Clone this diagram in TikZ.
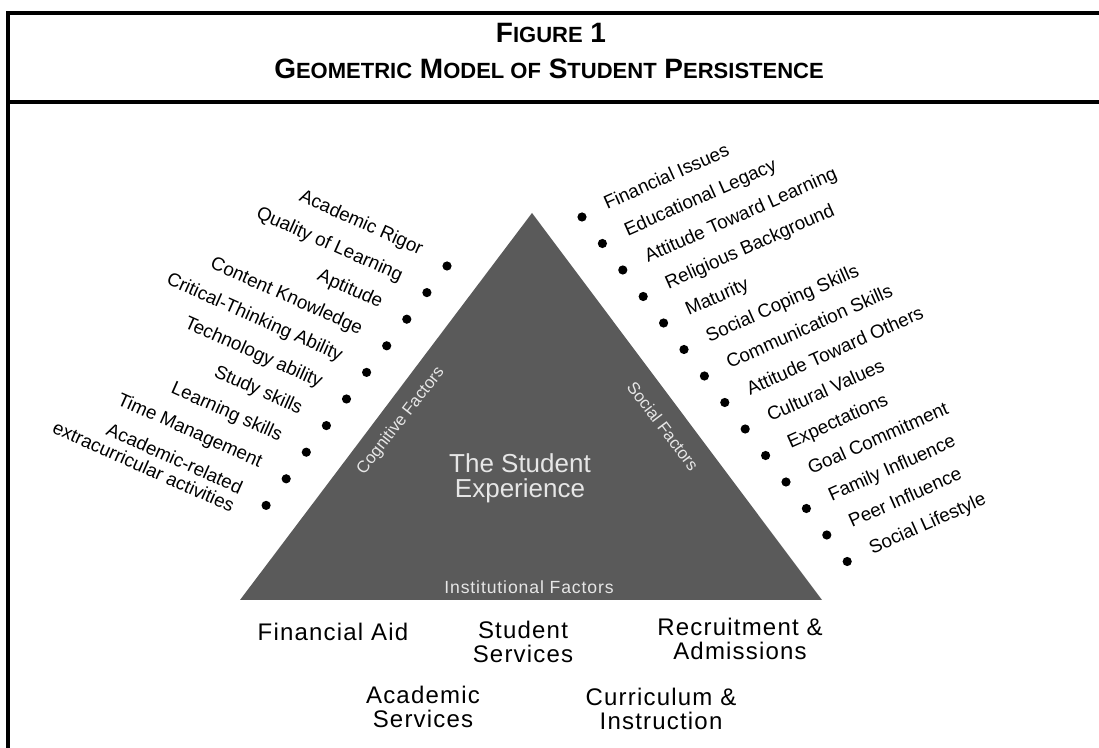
\documentclass[tikz,border=0pt]{standalone}
\usepackage{fontspec}
\setmainfont{Liberation Sans}
\usetikzlibrary{calc}
\definecolor{trifill}{HTML}{5A5A5A}
\definecolor{tritext}{HTML}{E6E6E6}
\newcommand{\smc}[1]{{\fontsize{11}{12}\selectfont #1}}
\begin{document}
\begin{tikzpicture}[x=0.5pt,y=-0.5pt,
  frameline/.style={line width=1.6pt, black},
  dotmark/.style={circle, fill=black, inner sep=0pt, minimum size=4.6pt},
  factlab/.style={font=\fontsize{9.4}{10}\selectfont, inner sep=0pt},
  leftlab/.style={factlab, anchor=base east, rotate=-24},
  rightlab/.style={factlab, anchor=base west, rotate=24},
  sidelab/.style={text=tritext, font=\fontsize{8.4}{9}\selectfont, inner sep=0pt},
  baselab/.style={align=center, inner sep=0pt, font=\fontsize{12}{12.2}\selectfont\addfontfeature{LetterSpace=5}},
  titlelab/.style={inner sep=0pt, anchor=base, font=\fontsize{14}{16}\selectfont\bfseries}
]
\useasboundingbox (0,0) rectangle (1099,748);
\fill[white] (0,0) rectangle (1099,748);
% frame
\draw[frameline] (1099,13) -- (8,13) -- (8,748);
\draw[frameline] (8,102) -- (1099,102);
% title
\node[titlelab] (t1) at (551,43) {F\smc{IGURE} 1};
\node[titlelab] (t2) at (549,79) {G\smc{EOMETRIC} M\smc{ODEL OF} S\smc{TUDENT} P\smc{ERSISTENCE}};
% triangle
\coordinate (bl) at (240,600);
\coordinate (br) at (822,600);
\coordinate (ap) at (532,213);
\fill[trifill] (bl) -- (br) -- (ap) -- cycle;
\node[text=tritext, align=center, inner sep=0pt, font=\fontsize{13}{12.6}\selectfont] (exp) at (520,478) {The Student\\Experience};
\node[sidelab, rotate=52] (cog) at (401,421) {Cognitive Factors};
\node[sidelab, rotate=-53] (soc) at (663,426) {Social Factors};
\node[sidelab, font=\fontsize{8.8}{9}\selectfont\addfontfeature{LetterSpace=5}] (inst) at (529,587) {Institutional Factors};
% left factors
\foreach \t [count=\n from 0] in {Academic Rigor,Quality of Learning,Aptitude,Content Knowledge,Critical-Thinking Ability,Technology ability,Study skills,Learning skills,Time Management}{
  \node[dotmark] (ld\n) at ({447-20.1*\n},{266+26.6*\n}) {};
  \node[leftlab] (ll\n) at ($(ld\n)+(-27,-11)$) {\t};
}
\node[dotmark] (ld9) at ({447-20.1*9},{266+26.6*9}) {};
\node[leftlab, align=right] (ll9) at ($(ld9)+(-35,7.3)$) {Academic-related\\extracurricular activities};
% right factors
\foreach \t [count=\n from 0] in {Financial Issues,Educational Legacy,Attitude Toward Learning,Religious Background,Maturity,Social Coping Skills,Communication Skills,Attitude Toward Others,Cultural Values,Expectations,Goal Commitment,Family Influence,Peer Influence,Social Lifestyle}{
  \node[dotmark] (rd\n) at ({582+20.4*\n},{217+26.5*\n}) {};
  \node[rightlab] (rl\n) at ($(rd\n)+(25,-7)$) {\t};
}
% institutional items
\node[baselab] (fa) at (333,632) {Financial Aid};
\node[baselab] (ss) at (523,642) {Student\\Services};
\node[baselab] (ra) at (740,639) {Recruitment \&\\Admissions};
\node[baselab] (as) at (423,707) {Academic\\Services};
\node[baselab] (ci) at (661,709) {Curriculum \&\\Instruction};
\end{tikzpicture}
\end{document}
